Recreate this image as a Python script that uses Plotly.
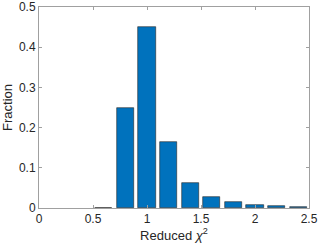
import plotly.graph_objects as go

bin_centers = [0.6, 0.8, 1.0, 1.2, 1.4, 1.6, 1.8, 2.0, 2.2, 2.4]
fractions = [0.001, 0.25, 0.451, 0.163, 0.061, 0.027, 0.014, 0.0075, 0.005, 0.002]
x_ticks = [0, 0.5, 1, 1.5, 2, 2.5]
x_tick_labels = ["0", "0.5", "1", "1.5", "2", "2.5"]
y_ticks = [0, 0.1, 0.2, 0.3, 0.4, 0.5]
y_tick_labels = ["0", "0.1", "0.2", "0.3", "0.4", "0.5"]

FONT = "Liberation Sans, Arial, sans-serif"

fig = go.Figure()
fig.add_trace(go.Bar(
    x=bin_centers, y=fractions, width=0.16,
    marker=dict(color="#0072BD", line=dict(color="#262626", width=0.6)),
))

axis_common = dict(
    showline=True, linecolor="#A0A0A0", linewidth=1, mirror="ticks",
    ticks="inside", ticklen=3, tickcolor="#A0A0A0",
    showgrid=False, zeroline=False, automargin=False,
    tickfont=dict(family=FONT, size=12, color="#262626"),
)

fig.update_layout(
    width=320, height=251,
    margin=dict(l=39, r=11, t=7, b=43, autoexpand=False),
    plot_bgcolor="white", paper_bgcolor="white",
    showlegend=False,
    bargap=0,
    xaxis=dict(range=[0, 2.5], tickvals=x_ticks, ticktext=x_tick_labels,
               title=dict(text="Reduced <i>χ</i><sup>2</sup>", standoff=2,
                          font=dict(family=FONT, size=13, color="#262626")),
               **axis_common),
    yaxis=dict(range=[0, 0.5], tickvals=y_ticks, ticktext=y_tick_labels,
               title=dict(text="Fraction", standoff=4,
                          font=dict(family=FONT, size=13, color="#262626")),
               **axis_common),
)

fig.write_html("out.html", config={"displayModeBar": False},
               post_script="document.body.style.margin='0';document.body.style.overflow='hidden';")
